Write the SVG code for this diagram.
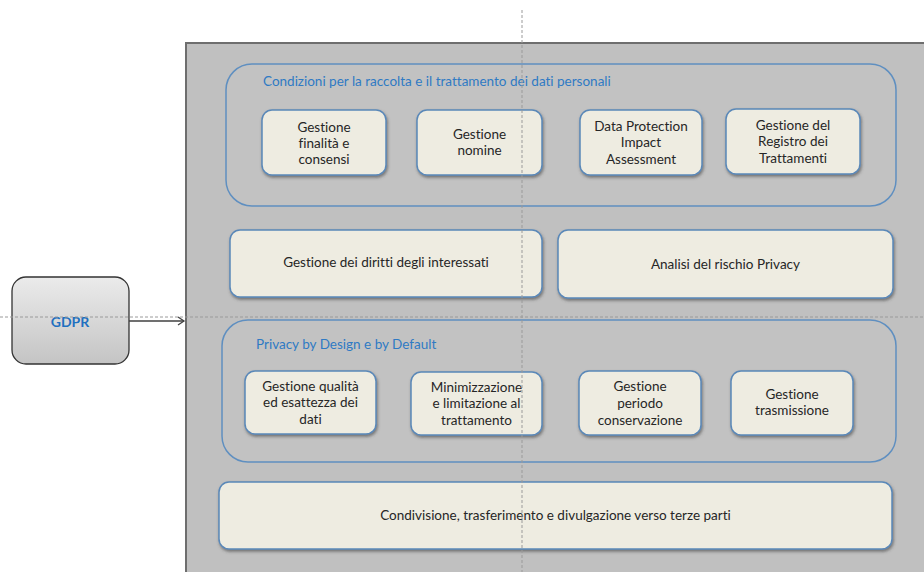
<svg xmlns="http://www.w3.org/2000/svg" width="924" height="572" viewBox="0 0 924 572">
<defs>
<linearGradient id="gGdpr" x1="0" y1="0" x2="0" y2="1">
<stop offset="0" stop-color="#ebebeb"/>
<stop offset="1" stop-color="#c4c4c4"/>
</linearGradient>
<filter id="sh" x="-10%" y="-10%" width="125%" height="140%">
<feDropShadow dx="1" dy="2" stdDeviation="1.5" flood-color="#404040" flood-opacity="0.6"/>
</filter>
<marker id="arr" markerWidth="10" markerHeight="10" refX="8" refY="5" orient="auto" markerUnits="userSpaceOnUse">
<path d="M2,1 L8,5 L2,9" fill="none" stroke="#404040" stroke-width="1.3"/>
</marker>
<style>
.node{fill:#eeece1;stroke:#5a88b8;stroke-width:1.5;filter:url(#sh)}
.cont{fill:#c2c2c2;stroke:#5f8fc0;stroke-width:1.5}
.t{font-family:Lato,"Liberation Sans",sans-serif;font-size:13.5px;fill:#262626;text-anchor:middle;font-variant-ligatures:none}
.title{font-family:Lato,"Liberation Sans",sans-serif;font-size:13.5px;fill:#2f7ac4;font-variant-ligatures:none}
.guide{stroke:#9a9a9a;stroke-width:1;stroke-dasharray:3 2;fill:none}
</style>
</defs>
<rect x="0" y="0" width="924" height="572" fill="#ffffff"/>
<g id="frame">
<rect x="186" y="43" width="750" height="540" fill="#c0c0c0" stroke="#6e6e6e" stroke-width="2"/>
</g>
<g id="gdpr">
<rect x="12" y="277" width="117" height="87" rx="14" fill="url(#gGdpr)" stroke="#333333" stroke-width="1.3"/>
<text x="70" y="327" font-family="Lato,'Liberation Sans',sans-serif" font-size="14" font-weight="bold" fill="#1f70c0" text-anchor="middle">GDPR</text>
</g>
<g id="connectors">
<line x1="129" y1="321" x2="184" y2="321" stroke="#404040" stroke-width="1.3" marker-end="url(#arr)"/>
</g>
<g id="group-condizioni">
<rect class="cont" x="226" y="64" width="670" height="142" rx="26"/>
<text class="title" x="263" y="86">Condizioni per la raccolta e il trattamento dei dati personali</text>
</g>
<g id="n-finalita">
<rect class="node" x="262" y="110" width="124" height="65" rx="10"/>
<text class="t" x="324" y="132">Gestione</text>
<text class="t" x="324" y="148">finalità e</text>
<text class="t" x="324" y="164">consensi</text>
</g>
<g id="n-nomine">
<rect class="node" x="417" y="110" width="125" height="65" rx="10"/>
<text class="t" x="479.5" y="139">Gestione</text>
<text class="t" x="479.5" y="155">nomine</text>
</g>
<g id="n-dpia">
<rect class="node" x="580" y="110" width="122" height="65" rx="10"/>
<text class="t" x="641" y="131">Data Protection</text>
<text class="t" x="641" y="147">Impact</text>
<text class="t" x="641" y="164">Assessment</text>
</g>
<g id="n-registro">
<rect class="node" x="726" y="109" width="134" height="65" rx="10"/>
<text class="t" x="793" y="130">Gestione del</text>
<text class="t" x="793" y="146">Registro dei</text>
<text class="t" x="793" y="163">Trattamenti</text>
</g>
<g id="n-diritti">
<rect class="node" x="230" y="230" width="312" height="67" rx="10"/>
<text class="t" x="386" y="267">Gestione dei diritti degli interessati</text>
</g>
<g id="n-rischio">
<rect class="node" x="558" y="230" width="335" height="68" rx="10"/>
<text class="t" x="725.5" y="269">Analisi del rischio Privacy</text>
</g>
<g id="group-privacy">
<rect class="cont" x="222" y="320" width="674" height="142" rx="26"/>
<text class="title" x="256" y="349">Privacy by Design e by Default</text>
</g>
<g id="n-qualita">
<rect class="node" x="245" y="371" width="131" height="63" rx="10"/>
<text class="t" x="310.5" y="391">Gestione qualità</text>
<text class="t" x="310.5" y="407">ed esattezza dei</text>
<text class="t" x="310.5" y="424">dati</text>
</g>
<g id="n-minimizzazione">
<rect class="node" x="411" y="372" width="131" height="63" rx="10"/>
<text class="t" x="476.5" y="392">Minimizzazione</text>
<text class="t" x="476.5" y="408">e limitazione al</text>
<text class="t" x="476.5" y="425">trattamento</text>
</g>
<g id="n-conservazione">
<rect class="node" x="579" y="371" width="122" height="64" rx="10"/>
<text class="t" x="640" y="391">Gestione</text>
<text class="t" x="640" y="408">periodo</text>
<text class="t" x="640" y="425">conservazione</text>
</g>
<g id="n-trasmissione">
<rect class="node" x="731" y="371" width="122" height="64" rx="10"/>
<text class="t" x="792" y="399">Gestione</text>
<text class="t" x="792" y="415">trasmissione</text>
</g>
<g id="n-condivisione">
<rect class="node" x="219" y="482" width="673" height="67" rx="10"/>
<text class="t" x="555.5" y="520">Condivisione, trasferimento e divulgazione verso terze parti</text>
</g>
<g id="guides">
<line class="guide" x1="522" y1="10" x2="522" y2="572"/>
<line class="guide" x1="0" y1="317" x2="924" y2="317"/>
</g>
</svg>
